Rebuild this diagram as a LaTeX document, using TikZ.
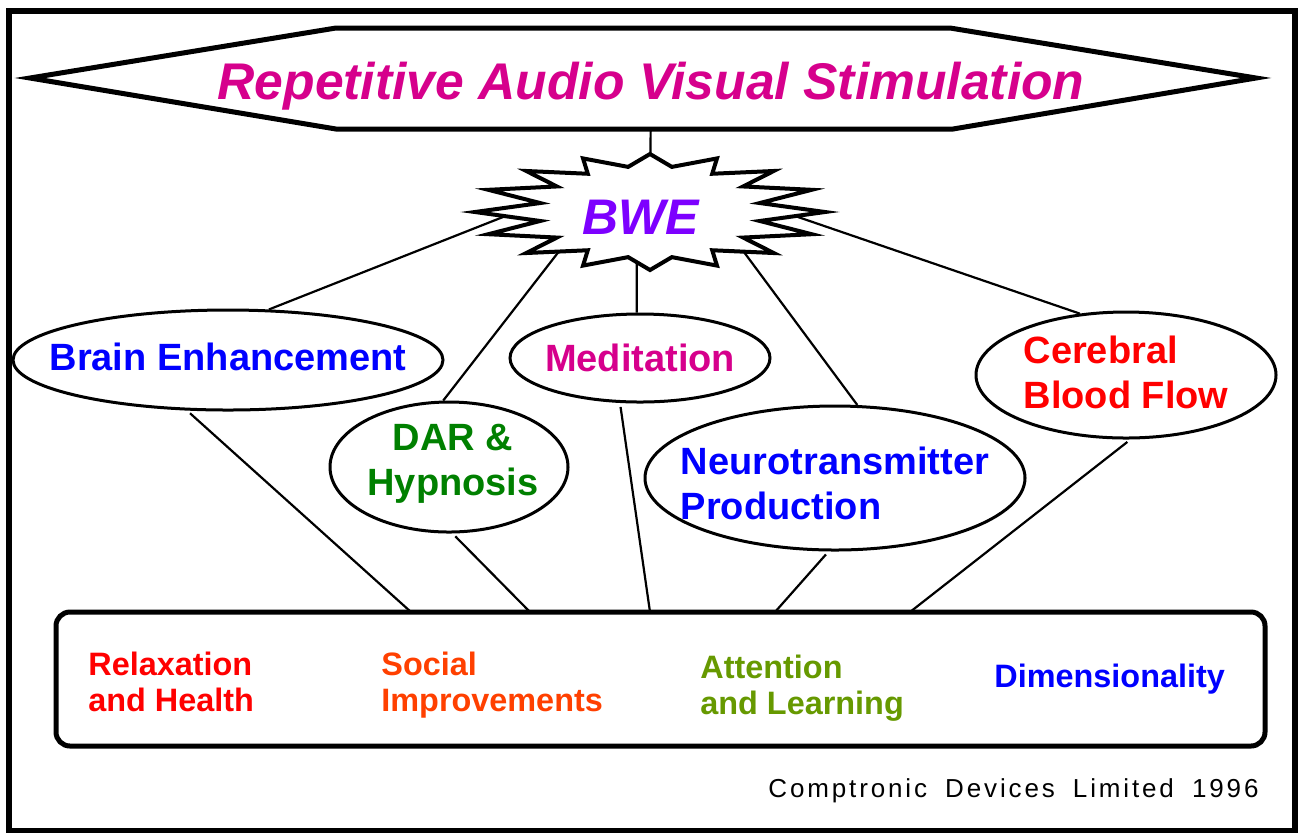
\documentclass[tikz,border=0pt]{standalone}
\usepackage{fontspec}
\setmainfont{Liberation Sans}
\newfontfamily\makerfont[LetterSpace=11, WordSpace=1.8]{Liberation Sans}
\usetikzlibrary{shapes.geometric,backgrounds}

\definecolor{titlepink}{RGB}{214,0,140}
\definecolor{bwepurple}{RGB}{125,0,255}
\definecolor{dargreen}{RGB}{0,128,0}
\definecolor{socialred}{RGB}{255,64,0}
\definecolor{attngreen}{RGB}{102,153,0}

\begin{document}
\begin{tikzpicture}[
        x = 0.5pt, y = -0.5pt,
        bubble/.style = {
            draw, ellipse, fill=white,
            line width = 1.5pt,
            inner sep = 0pt,
        },
        bubbletext/.style = {
            inner sep = 0pt,
            align = center,
            font = \fontsize{19}{22.5}\selectfont\bfseries,
        },
        boxtext/.style = {
            inner sep = 0pt,
            align = left,
            anchor = north west,
            font = \fontsize{16.2}{18}\selectfont\bfseries,
        },
        link/.style = {line width = 1.1pt},
        ]

        \useasboundingbox (0,0) rectangle (1299,832);

        % Kader
        \draw[line width = 3pt] (9,11) rectangle (1294.5,830.5);

        % Titel
        \filldraw[line width = 2.5pt, fill = white]
            (30,78) -- (336,28) -- (950,28) -- (1256,78) -- (953,129) -- (336,129) -- cycle;
        \node[anchor = base, inner sep = 0pt, text = titlepink,
            font = \fontsize{25.8}{30}\selectfont\bfseries\itshape] (title) at (651,99)
            {Repetitive Audio Visual Stimulation};

        % Ster
        \filldraw[line width = 2pt, fill = white]
            (650,154)
            \foreach \k [evaluate = \k as \rx using {175-63*mod(\k,2)},
                         evaluate = \k as \ry using {58-12*mod(\k,2)},
                         evaluate = \k as \a using {90+11.25*\k}] in {1,...,31}
                { -- ({650+\rx*cos(\a)}, {212-\ry*sin(\a)}) }
            -- cycle;
        \node[ellipse, inner sep = 0pt, minimum width = 112pt, minimum height = 46pt,
            label = {[inner sep = 0pt, text = bwepurple, xshift = -4.5pt, yshift = -2.5pt,
                font = \fontsize{25}{28}\selectfont\bfseries\itshape]center:BWE}] (bwe) at (650,212) {};

        % Effecten
        \node[bubble, minimum width = 215pt, minimum height = 50pt,
            label = {[bubbletext, text = blue, yshift = 1.5pt]center:Brain Enhancement}] (brain) at (228,360) {};
        \node[bubble, minimum width = 119pt, minimum height = 65pt,
            label = {[bubbletext, text = dargreen, xshift = 2pt, yshift = 1.5pt]center:{DAR \&\\Hypnosis}}] (dar) at (449,467) {};
        \node[bubble, minimum width = 130pt, minimum height = 44pt,
            label = {[bubbletext, text = titlepink]center:Meditation}] (meditation) at (640,358) {};
        \node[bubble, minimum width = 190pt, minimum height = 72pt,
            label = {[bubbletext, align = left, text = blue, yshift = -2.75pt]center:{Neurotransmitter\\Production}}] (neuro) at (835,478) {};
        \node[bubble, minimum width = 150pt, minimum height = 63pt,
            label = {[bubbletext, align = left, text = red, yshift = 1.25pt]center:{Cerebral\\Blood Flow}}] (blood) at (1126,375) {};

        % Resultaten
        \node[draw, fill = white, rounded corners = 7pt, line width = 2.5pt,
            minimum width = 604.5pt, minimum height = 67pt] (results) at (660.5,679) {};
        \node[boxtext, text = red] (relax) at (88,652) {Relaxation\\and Health};
        \node[boxtext, text = socialred] (social) at (381,652) {Social\\Improvements};
        \node[boxtext, text = attngreen] (attention) at (700,655) {Attention\\and Learning};
        \node[boxtext, text = blue] (dimension) at (994,664) {Dimensionality};

        \coordinate (r1) at (411,612);
        \coordinate (r2) at (530,612);
        \coordinate (r3) at (650,612);
        \coordinate (r4) at (775,612);
        \coordinate (r5) at (910,612);

        \node[anchor = base west, inner sep = 0pt,
            font = \makerfont\fontsize{13}{15}\selectfont] (maker) at (768,797)
            {Comptronic Devices Limited 1996};

        % Verbindingen
        \begin{scope}[on background layer]
            \path[link]
                (title) edge (bwe)
                (bwe.175) edge (brain.51)
                (bwe.200) edge (dar.95)
                (bwe.254) edge (meditation.94)
                (bwe.341) edge (neuro.73)
                (bwe.4) edge (blood.127);

            \path[link, shorten <= 2pt]
                (brain.231) edge (r1)
                (dar.273) edge (r2)
                (meditation.246) edge (r3)
                (neuro.265) edge (r4)
                (blood.274) edge (r5);
        \end{scope}
\end{tikzpicture}
\end{document}
